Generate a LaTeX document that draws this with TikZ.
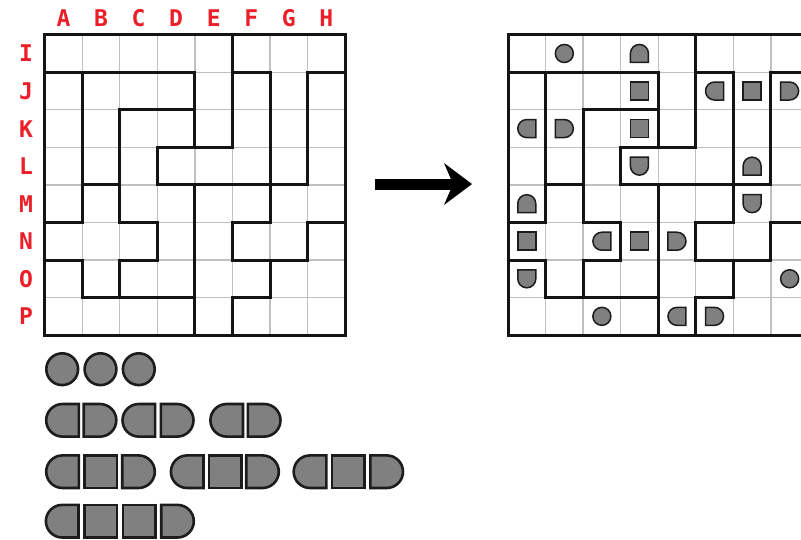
\documentclass[tikz,border=0pt]{standalone}
\usepackage{fontspec}
\setmainfont{DejaVu Sans}
\newfontfamily\lblfont{DejaVu Sans Mono}
\usetikzlibrary{arrows.meta}
\definecolor{lblred}{RGB}{236,30,40}
\definecolor{thingray}{RGB}{192,192,192}
\definecolor{pgray}{RGB}{128,128,128}
\definecolor{pedge}{RGB}{28,28,28}
\begin{document}
\begin{tikzpicture}[x=1pt,y=-1pt,
  thinline/.style={draw=thingray,line width=1.3pt},
  wall/.style={draw=black!92,line width=3pt,line cap=rect,line join=miter},
  pshape/.style={fill=pgray,draw=pedge},
  lbl/.style={text=lblred,font=\lblfont\bfseries\fontsize{23}{23}\selectfont,anchor=base,inner sep=0pt},
  pcirc/.pic={\path[pshape] (0,0) circle (1);},
  psq/.pic={\path[pshape] (-1,-1) rectangle (1,1);},
  pend/.pic={\path[pshape] (0,-1) -- (-1,-1) -- (-1,1) -- (0,1) arc[start angle=90,end angle=-90,radius=1] -- cycle;},
  small/.style={scale=0.24,line width=1.5pt},
  big/.style={scale=16.3,line width=2.6pt}
]
\useasboundingbox (0,0) rectangle (801,539);

% ---------- labels ----------
\foreach \t [count=\i from 0] in {A,B,C,D,E,F,G,H}
  \node[lbl] (col\t) at ({63.5+37.55*\i},26) {\t};
\foreach \t [count=\i from 0] in {I,J,K,L,M,N,O,P}
  \node[lbl] (row\t) at (26,{34.7+37.55*(\i+0.5)+8.5}) {\t};

% ---------- left grid ----------
\begin{scope}[shift={(44.7,34.7)},x=37.55pt,y=-37.55pt]
  \foreach \k in {1,...,7} {
    \draw[thinline] (\k,0) -- (\k,8);
    \draw[thinline] (0,\k) -- (8,\k);
  }
  \draw[wall] (0,0) rectangle (8,8);
  \draw[wall] (0,1) -- (4,1);
  \draw[wall] (5,1) -- (6,1);
  \draw[wall] (7,1) -- (8,1);
  \draw[wall] (5,0) -- (5,3) -- (3,3) -- (3,4) -- (7,4) -- (7,1);
  \draw[wall] (4,1) -- (4,3);
  \draw[wall] (1,1) -- (1,5) -- (0,5);
  \draw[wall] (2,2) -- (4,2);
  \draw[wall] (2,2) -- (2,5) -- (3,5) -- (3,6) -- (2,6) -- (2,7);
  \draw[wall] (1,4) -- (2,4);
  \draw[wall] (0,6) -- (1,6) -- (1,7) -- (4,7);
  \draw[wall] (4,4) -- (4,8);
  \draw[wall] (6,1) -- (6,5) -- (5,5) -- (5,6) -- (7,6) -- (7,5) -- (8,5);
  \draw[wall] (5,8) -- (5,7) -- (6,7) -- (6,6);
\end{scope}

% ---------- arrow ----------
\coordinate (arrS) at (375,184);
\coordinate (arrE) at (472,184);
\draw[line width=11pt,-{Stealth[length=28pt,width=42pt,inset=9pt,line width=0pt]}] (arrS) -- (arrE);

% ---------- right grid ----------
\begin{scope}[shift={(508,34.7)},x=37.55pt,y=-37.55pt]
  \clip (-0.5,-0.5) rectangle ({(801-508)/37.55},8.5);
  \foreach \k in {1,...,7} {
    \draw[thinline] (\k,0) -- (\k,8);
    \draw[thinline] (0,\k) -- (8,\k);
  }
  \draw[wall] (0,0) rectangle (8,8);
  \draw[wall] (0,1) -- (4,1);
  \draw[wall] (5,1) -- (6,1);
  \draw[wall] (7,1) -- (8,1);
  \draw[wall] (5,0) -- (5,3) -- (3,3) -- (3,4) -- (7,4) -- (7,1);
  \draw[wall] (4,1) -- (4,3);
  \draw[wall] (1,1) -- (1,5) -- (0,5);
  \draw[wall] (2,2) -- (4,2);
  \draw[wall] (2,2) -- (2,5) -- (3,5) -- (3,6) -- (2,6) -- (2,7);
  \draw[wall] (1,4) -- (2,4);
  \draw[wall] (0,6) -- (1,6) -- (1,7) -- (4,7);
  \draw[wall] (4,4) -- (4,8);
  \draw[wall] (6,1) -- (6,5) -- (5,5) -- (5,6) -- (7,6) -- (7,5) -- (8,5);
  \draw[wall] (5,8) -- (5,7) -- (6,7) -- (6,6);
  % pieces
  \pic[small] at (1.5,0.5) {pcirc};
  \pic[small,rotate=90] at (3.5,0.5) {pend};
  \pic[small] at (3.5,1.5) {psq};
  \pic[small,rotate=180] at (5.5,1.5) {pend};
  \pic[small] at (6.5,1.5) {psq};
  \pic[small] at (7.5,1.5) {pend};
  \pic[small,rotate=180] at (0.5,2.5) {pend};
  \pic[small] at (1.5,2.5) {pend};
  \pic[small] at (3.5,2.5) {psq};
  \pic[small,rotate=-90] at (3.5,3.5) {pend};
  \pic[small,rotate=90] at (6.5,3.5) {pend};
  \pic[small,rotate=90] at (0.5,4.5) {pend};
  \pic[small,rotate=-90] at (6.5,4.5) {pend};
  \pic[small] at (0.5,5.5) {psq};
  \pic[small,rotate=180] at (2.5,5.5) {pend};
  \pic[small] at (3.5,5.5) {psq};
  \pic[small] at (4.5,5.5) {pend};
  \pic[small,rotate=-90] at (0.5,6.5) {pend};
  \pic[small] at (7.5,6.5) {pcirc};
  \pic[small] at (2.5,7.5) {pcirc};
  \pic[small,rotate=180] at (4.5,7.5) {pend};
  \pic[small] at (5.5,7.5) {pend};
\end{scope}

% ---------- pieces below ----------
\foreach \x in {62.2,100.5,138.8}
  \pic[big,scale=0.975] at (\x,369.2) {pcirc};
% dominoes
\foreach \a/\b in {62.5/100, 138.8/177.2, 226.7/264.2} {
  \pic[big,rotate=180] at (\a,420.3) {pend};
  \pic[big] at (\b,420.3) {pend};
}
% trominoes
\foreach \a/\m/\b in {62.5/100.5/138.5, 187.2/225.3/262.5, 310/348.3/386.7} {
  \pic[big,rotate=180] at (\a,471.7) {pend};
  \pic[big] at (\m,471.7) {psq};
  \pic[big] at (\b,471.7) {pend};
}
% tetromino
\pic[big,rotate=180] at (62.2,521.2) {pend};
\pic[big] at (100.5,521.2) {psq};
\pic[big] at (139.2,521.2) {psq};
\pic[big] at (177.5,521.2) {pend};
\end{tikzpicture}
\end{document}
